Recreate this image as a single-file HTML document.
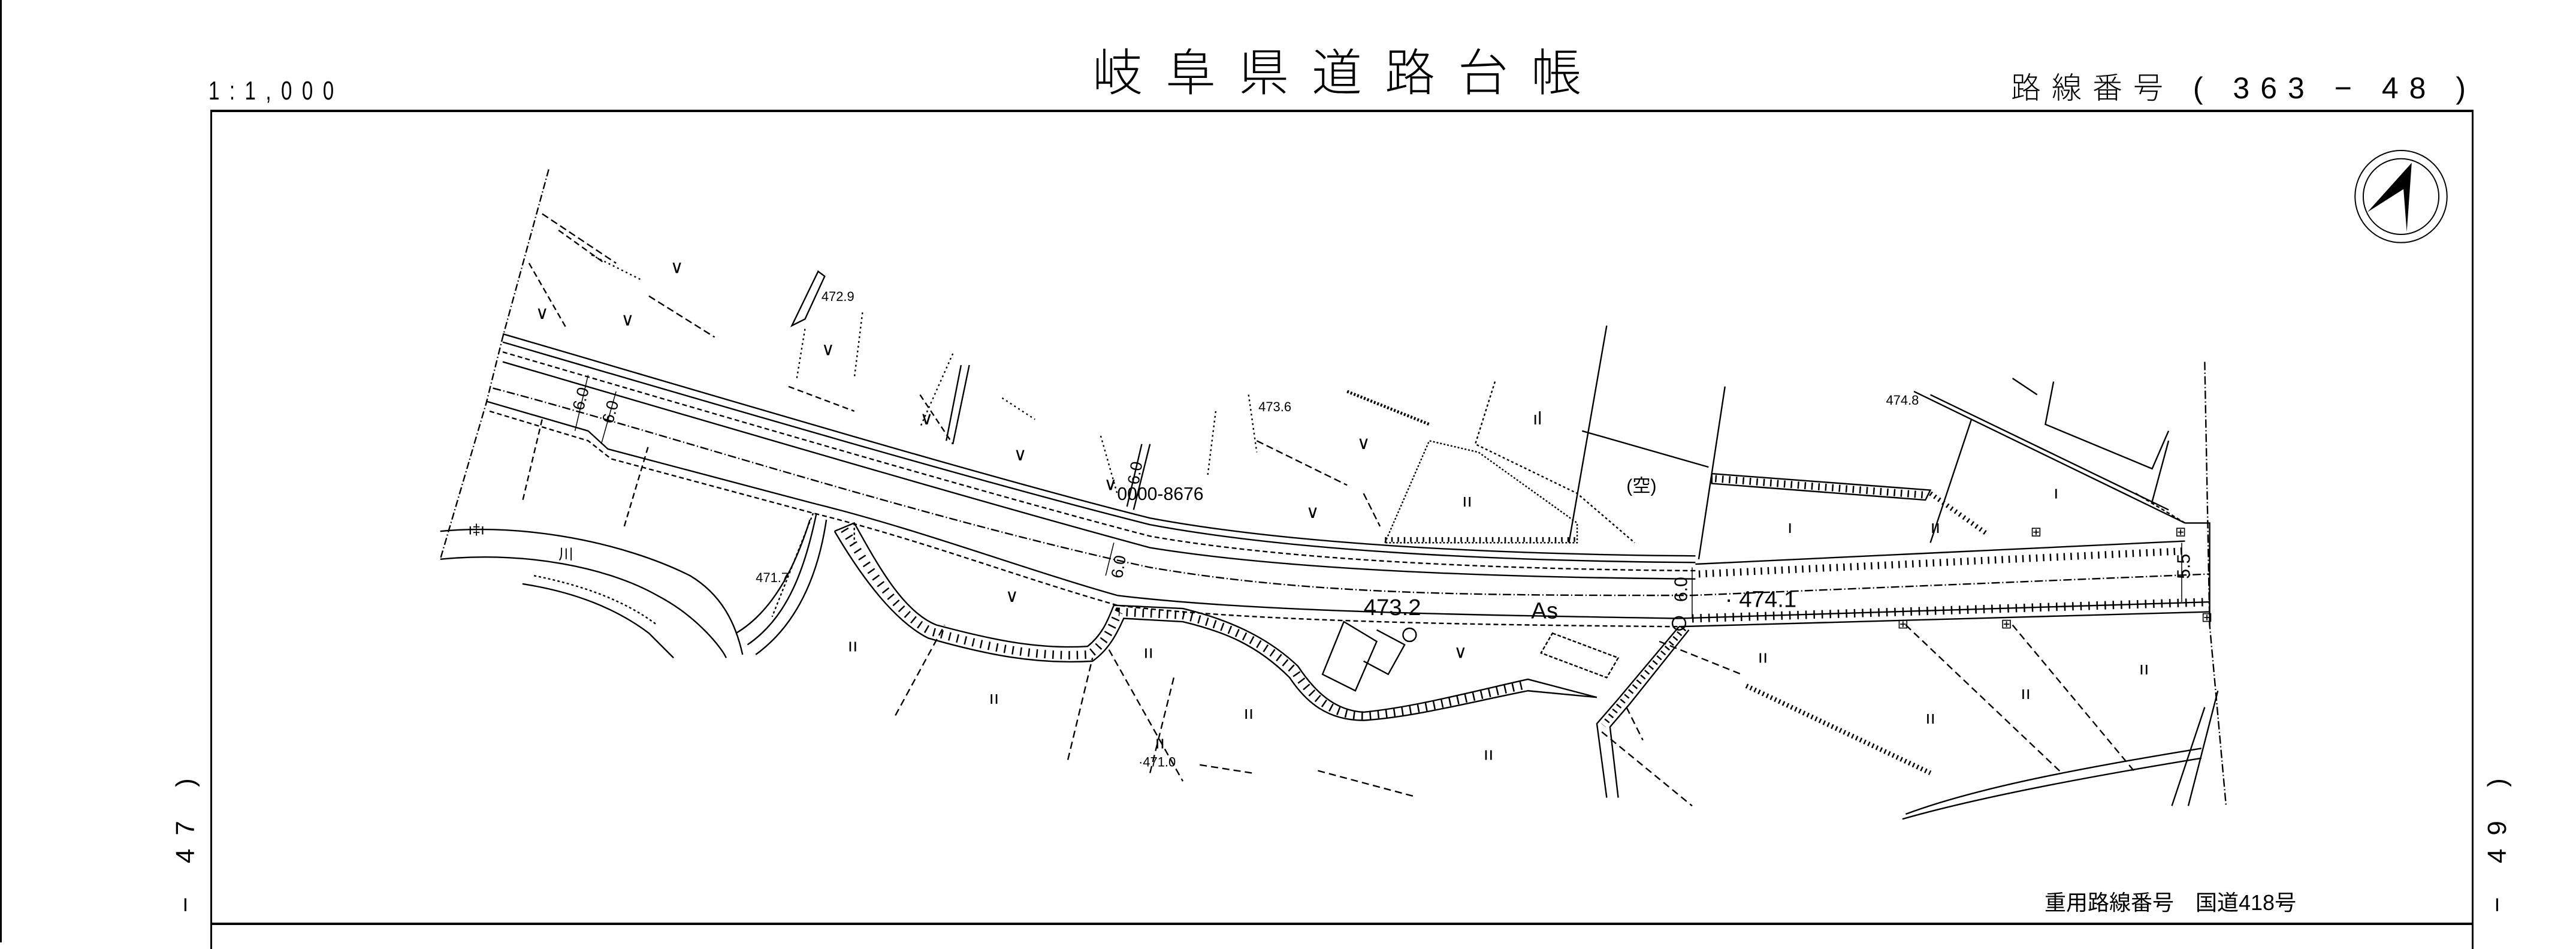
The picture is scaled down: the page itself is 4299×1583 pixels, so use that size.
<!DOCTYPE html>
<html><head><meta charset="utf-8"><style>
html,body{margin:0;padding:0;background:#fff}
body{width:4299px;height:1572px;position:relative;overflow:hidden;font-family:"Liberation Sans","Noto Sans CJK JP",sans-serif;color:#000}
.t{position:absolute;white-space:nowrap;line-height:1}
</style></head><body>
<div style="position:absolute;left:0;top:0;width:3px;height:1572px;background:#000"></div>
<div class="t" style="left:348px;top:130px;font-size:44px;letter-spacing:22px;transform:scaleX(0.75);transform-origin:left top;font-weight:300">1:1,000</div>
<div class="t" style="left:1823px;top:80px;font-size:84px;letter-spacing:38px;font-weight:300">岐阜県道路台帳</div>
<div class="t" style="left:3356px;top:122px;font-size:50px;letter-spacing:18px;font-weight:300">路線番号 ( 363 −  48 )</div>
<div class="t" style="left:3412px;top:1488px;font-size:36px;">重用路線番号　国道418号</div>
<div class="t" style="left:230px;top:1420px;font-size:44px;letter-spacing:22px;transform:rotate(-90deg);transform-origin:center;width:160px;text-align:center">− 47 )</div>
<div class="t" style="left:4088px;top:1420px;font-size:44px;letter-spacing:22px;transform:rotate(-90deg);transform-origin:center;width:160px;text-align:center">− 49 )</div>
<div style="position:absolute;left:351px;top:183px;width:3777px;height:1400px;border-left:3px solid #000;border-right:3px solid #000;border-top:4px solid #000;box-sizing:border-box"></div>
<div style="position:absolute;left:351px;top:1539px;width:3777px;height:4px;background:#000"></div>
<svg style="position:absolute;left:0;top:0" width="4299" height="1572" viewBox="0 0 1568 573" preserveAspectRatio="none" xmlns="http://www.w3.org/2000/svg">
<g fill="none" stroke="#000" stroke-width="2.4">
<g>
<circle cx="1461.5" cy="119.5" r="28" stroke-width="2" vector-effect="non-scaling-stroke"/>
<circle cx="1461.5" cy="119.5" r="23" stroke-width="2" vector-effect="non-scaling-stroke"/>
<polygon points="1468,99 1465,141 1463,115 1441,129" fill="#000" stroke="none"/>
</g>
<path d="M306,203 C450,245 600,290 700,315 C780,330 900,337 1032,338" vector-effect="non-scaling-stroke"/>
<path d="M306,208 C450,250 600,294 700,319 C780,334 900,341 1032,342" vector-effect="non-scaling-stroke"/>
<path d="M306,214 C450,256 600,300 700,326 C780,340 900,346 1032,347" stroke-dasharray="8 5" vector-effect="non-scaling-stroke"/>
<path d="M306,220 C450,262 600,306 700,333 C780,346 900,351 1032,352" vector-effect="non-scaling-stroke"/>
<path d="M300,236 C400,262 560,315 700,345 C800,362 900,362 1030,362 L1345,349" stroke-dasharray="14 4 2 4" vector-effect="non-scaling-stroke"/>
<path d="M296,244 L358,262 L370,273 L495,306 C560,322 620,345 680,362 C760,372 900,374 1022,376 L1345,366" vector-effect="non-scaling-stroke"/>
<path d="M298,250 L358,268 L372,279 L495,312 C560,328 620,351 680,368 C760,378 900,380 1022,381" stroke-dasharray="8 5" vector-effect="non-scaling-stroke"/>
<path d="M1032,343 L1330,329" vector-effect="non-scaling-stroke"/>
<path d="M1034,349 L1330,335" stroke-width="12" stroke-dasharray="2.5 9" vector-effect="non-scaling-stroke"/>
<path d="M1022,381 L1345,372" vector-effect="non-scaling-stroke"/>
<path d="M1030,376 L1345,366" stroke-width="14" stroke-dasharray="2.5 11" vector-effect="non-scaling-stroke"/>
<path d="M1042,288 L1175,298 L1172,304 L1042,294 Z" vector-effect="non-scaling-stroke"/>
<path d="M1044,291 L1172,301" stroke-width="12" stroke-dasharray="2.5 9" vector-effect="non-scaling-stroke"/>
<path d="M1330,318 L1345,318 L1345,380" vector-effect="non-scaling-stroke"/>
<path d="M334,103 L306,205 L296,245 L268,340" stroke-dasharray="12 4 2 4" vector-effect="non-scaling-stroke"/>
<path d="M330,130 L375,160 M395,180 L435,205" stroke-dasharray="12 6" vector-effect="non-scaling-stroke"/>
<path d="M322,160 L345,200 M340,140 L368,160" stroke-dasharray="10 6" vector-effect="non-scaling-stroke"/>
<path d="M360,155 L390,170" stroke-dasharray="3 5" vector-effect="non-scaling-stroke"/>
<path d="M330,255 L318,305 M380,320 L395,270" stroke-dasharray="10 6" vector-effect="non-scaling-stroke"/>
<path d="M490,194 L502,168 L498,165 L482,198 Z" vector-effect="non-scaling-stroke"/>
<path d="M490,200 L485,230 M525,190 L520,230 M580,215 L560,260 M610,242 L630,255" stroke-dasharray="3 5" vector-effect="non-scaling-stroke"/>
<path d="M480,235 L520,250 M560,240 L580,270" stroke-dasharray="10 6" vector-effect="non-scaling-stroke"/>
<path d="M590,222 L580,270 M585,222 L576,268" vector-effect="non-scaling-stroke"/>
<path d="M700,270 L690,310 M695,270 L686,308" vector-effect="non-scaling-stroke"/>
<path d="M670,265 L680,300 M740,250 L735,290 M760,240 L765,275" stroke-dasharray="3 5" vector-effect="non-scaling-stroke"/>
<path d="M765,268 L820,295 M830,300 L840,320" stroke-dasharray="12 6" vector-effect="non-scaling-stroke"/>
<path d="M820,238 L870,258" stroke-width="5" stroke-dasharray="3 3" vector-effect="non-scaling-stroke"/>
<path d="M843,330 L870,268 L900,275 L960,318 L960,330 Z" stroke-dasharray="3 3" vector-effect="non-scaling-stroke"/>
<path d="M843,328 L960,328" stroke-width="8" stroke-dasharray="2.5 8" vector-effect="non-scaling-stroke"/>
<path d="M910,232 L898,270 L960,300 L995,330" stroke-dasharray="4 4" vector-effect="non-scaling-stroke"/>
<path d="M978,198 L955,330 M963,262 L1040,284 M1050,235 L1034,340" vector-effect="non-scaling-stroke"/>
<path d="M1200,255 L1175,330 M1165,238 L1330,318 M1175,240 L1320,310" vector-effect="non-scaling-stroke"/>
<path d="M1175,300 L1210,325" stroke-width="8" stroke-dasharray="2.5 6" vector-effect="non-scaling-stroke"/>
<path d="M1250,232 L1245,258 L1310,285 L1320,262 M1225,230 L1240,240 M1310,305 L1320,268" vector-effect="non-scaling-stroke"/>
<path d="M1342,220 L1345,380 L1355,490" stroke-dasharray="14 4 2 4" vector-effect="non-scaling-stroke"/>
<path d="M1350,420 L1332,490 M1342,430 L1322,490" vector-effect="non-scaling-stroke"/>
<path d="M268,323 C320,318 380,330 420,350 C440,362 448,380 452,398" vector-effect="non-scaling-stroke"/>
<path d="M268,340 C320,335 370,345 400,362 C425,375 440,395 442,400" vector-effect="non-scaling-stroke"/>
<path d="M318,355 C350,360 375,370 395,385 L410,400" vector-effect="non-scaling-stroke"/>
<path d="M325,350 C355,356 380,365 400,380" stroke-dasharray="4 4" vector-effect="non-scaling-stroke"/>
<path d="M497,312 C490,345 480,375 455,392 M503,316 C498,350 485,380 460,398 M493,316 C484,345 470,372 448,385" vector-effect="non-scaling-stroke"/>
<path d="M495,312 L470,375 M520,318 L520,330" stroke-dasharray="4 4" vector-effect="non-scaling-stroke"/>
<path d="M508,323 L520,318 C535,345 550,372 570,380 C600,388 630,395 662,393 C672,385 675,375 678,368 L720,370 C745,376 770,386 790,405 C800,420 812,432 830,433 C860,430 890,422 930,413 L972,424" vector-effect="non-scaling-stroke"/>
<path d="M508,323 C525,352 545,378 565,388 C600,398 630,404 665,402 C675,395 680,385 684,376 L720,378 C745,384 765,392 785,412 C795,427 808,438 830,438 C860,436 890,428 930,420 L972,424" vector-effect="non-scaling-stroke"/>
<path d="M514,322 C530,348 548,375 567,384 C600,393 630,400 663,398 C674,390 677,380 681,372 L720,374 C745,380 768,389 788,408 C798,423 810,435 830,435 C860,433 890,425 930,416" stroke-width="14" stroke-dasharray="2.5 11" vector-effect="non-scaling-stroke"/>
<path d="M1022,381 L985,425 L972,440 L978,485 M1028,383 L992,428 L980,442 L985,485" vector-effect="non-scaling-stroke"/>
<path d="M1025,382 L988,426 L976,441" stroke-width="10" stroke-dasharray="2.5 8" vector-effect="non-scaling-stroke"/>
<path d="M818,378 L838,390 L825,420 L805,410 Z M838,383 L855,392 L845,410 L830,402" vector-effect="non-scaling-stroke"/>
<circle cx="858" cy="386" r="4" vector-effect="non-scaling-stroke"/>
<circle cx="1022" cy="379" r="4" vector-effect="non-scaling-stroke"/>
<path d="M945,385 L985,400 L978,412 L938,397 Z" stroke-dasharray="6 3" vector-effect="non-scaling-stroke"/>
<path d="M545,435 L575,380 M650,462 L665,400 M700,470 L715,410 M675,395 L720,475 M1010,390 L1060,410 M990,430 L1000,450 M975,445 L1030,490 M1160,380 L1255,470 M1225,380 L1300,470 M860,484 L800,468 M762,470 L730,465" stroke-dasharray="12 7" vector-effect="non-scaling-stroke"/>
<path d="M1063,417 L1175,470" stroke-width="8" stroke-dasharray="2.5 5" vector-effect="non-scaling-stroke"/>
<path d="M1160,495 C1200,480 1260,468 1340,455 M1158,498 C1200,486 1260,474 1340,461" vector-effect="non-scaling-stroke"/>
<path d="M1330,318 L1300,300" stroke-dasharray="6 4" vector-effect="non-scaling-stroke"/>
<path d="M358,228 L350,262 M375,238 L366,270 M678,330 L673,350 M1030,345 L1030,376 M1328,330 L1328,366" stroke-width="1.5" vector-effect="non-scaling-stroke"/>
</g>
<g font-family="Liberation Sans, sans-serif" fill="#000">
<text x="830" y="374" font-size="14">473.2</text>
<text x="932" y="376" font-size="14">As</text>
<text x="1050" y="369" font-size="14">· 474.1</text>
<text x="680" y="304" font-size="11">0000-8676</text>
<text x="500" y="183" font-size="8">472.9</text>
<text x="766" y="250" font-size="8">473.6</text>
<text x="460" y="354" font-size="8">471.7</text>
<text x="693" y="466" font-size="8">·471.0</text>
<text x="1148" y="246" font-size="8">474.8</text>
<text x="990" y="299" font-size="11" font-family="Liberation Sans, Noto Sans CJK JP, sans-serif">(空)</text>
<text font-size="10" transform="translate(355,250) rotate(-75)">6.0</text>
<text font-size="10" transform="translate(373,258) rotate(-75)">6.0</text>
<text font-size="10" transform="translate(693,295) rotate(-80)">6.0</text>
<text font-size="10" transform="translate(683,352) rotate(-80)">6.0</text>
<text font-size="11" transform="translate(1027,366) rotate(-90)">6.0</text>
<text font-size="11" transform="translate(1333,352) rotate(-90)">5.5</text>
<g font-size="11">
<text x="326" y="194">∨</text><text x="378" y="198">∨</text><text x="408" y="166">∨</text><text x="500" y="216">∨</text>
<text x="560" y="258">∨</text><text x="617" y="280">∨</text><text x="672" y="298">∨</text><text x="795" y="315">∨</text>
<text x="826" y="273">∨</text><text x="612" y="366">∨</text><text x="885" y="400">∨</text>
<text x="933" y="258">ıl</text><text x="890" y="308">ıı</text><text x="1250" y="303">ı</text>
<text x="516" y="396">ıı</text><text x="602" y="428">ıı</text><text x="696" y="400">ıı</text><text x="757" y="437">ıı</text>
<text x="703" y="455">ıı</text><text x="903" y="462">ıı</text><text x="1070" y="403">ıı</text><text x="1172" y="440">ıı</text>
<text x="1230" y="425">ıı</text><text x="1302" y="410">ıı</text><text x="1088" y="324">ı</text><text x="1175" y="324">ıı</text>
<text x="1218" y="382" font-size="8">⊞</text><text x="1155" y="382" font-size="8">⊞</text><text x="1236" y="326" font-size="8">⊞</text>
<text x="1324" y="326" font-size="8">⊞</text><text x="1340" y="378" font-size="8">⊞</text>
<text x="285" y="325" font-size="9">ı‡ı</text><text x="340" y="340" font-size="9">川</text>
</g>
</g>
</svg>
</body></html>
